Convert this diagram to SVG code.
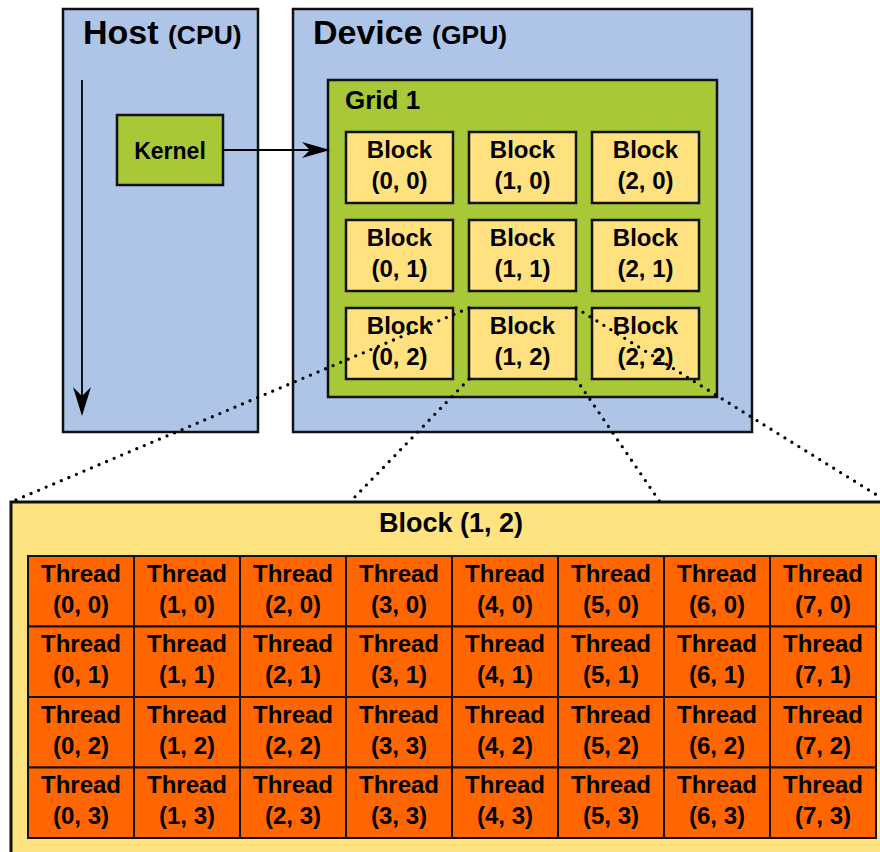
<svg xmlns="http://www.w3.org/2000/svg" width="880" height="852" viewBox="0 0 880 852">
  <style>
    text { font-family: "Liberation Sans", Arial, Helvetica, sans-serif; font-weight: bold; fill: #000; }
    .panel { fill: #aec5e7; stroke: #111; stroke-width: 2.5; }
    .grid { fill: #a8c837; stroke: #111; stroke-width: 2.5; }
    .kernel { fill: #a8c837; stroke: #111; stroke-width: 2.5; }
    .block { fill: #ffe27f; stroke: #111; stroke-width: 2.5; }
    .zoomed { fill: #ffe380; stroke: #111; stroke-width: 3; }
    .thread { fill: #ff6600; stroke: #111; stroke-width: 2; }
    .big { font-size: 34px; }
    .sub { font-size: 26.5px; }
    .grid-title { font-size: 26px; }
    .lbl { font-size: 24px; text-anchor: middle; }
    .tlbl { font-size: 24px; text-anchor: middle; }
    .dots { fill: none; stroke: #000; stroke-width: 3.3; stroke-linecap: round; stroke-dasharray: 0 8.2; }
    .wire { fill: none; stroke: #000; stroke-width: 1.8; }
  </style>

  <!-- Host side -->
  <g id="host">
    <rect class="panel" x="63" y="9" width="195" height="423"/>
    <text x="83" y="44" class="big">Host <tspan class="sub">(CPU)</tspan></text>
  </g>

  <!-- Device side -->
  <g id="device">
    <rect class="panel" x="293" y="9" width="459" height="423"/>
    <text x="313" y="44" class="big">Device <tspan class="sub">(GPU)</tspan></text>
  </g>

  <g id="grid1">
    <rect class="grid" x="328" y="80" width="389" height="317"/>
    <text x="345" y="109" class="grid-title">Grid 1</text>
  </g>

  <g id="kernel">
    <rect class="kernel" x="117" y="115" width="106" height="70"/>
    <text x="170" y="159" class="lbl" style="font-size:23px">Kernel</text>
  </g>

  <!-- Blocks of Grid 1 -->
  <g id="block-0-0"><rect class="block" x="346" y="132" width="107" height="71"/><text class="lbl" x="399.5" y="158">Block</text><text class="lbl" x="399.5" y="189">(0, 0)</text></g>
  <g id="block-1-0"><rect class="block" x="469" y="132" width="107" height="71"/><text class="lbl" x="522.5" y="158">Block</text><text class="lbl" x="522.5" y="189">(1, 0)</text></g>
  <g id="block-2-0"><rect class="block" x="592" y="132" width="107" height="71"/><text class="lbl" x="645.5" y="158">Block</text><text class="lbl" x="645.5" y="189">(2, 0)</text></g>
  <g id="block-0-1"><rect class="block" x="346" y="220" width="107" height="71"/><text class="lbl" x="399.5" y="246">Block</text><text class="lbl" x="399.5" y="277">(0, 1)</text></g>
  <g id="block-1-1"><rect class="block" x="469" y="220" width="107" height="71"/><text class="lbl" x="522.5" y="246">Block</text><text class="lbl" x="522.5" y="277">(1, 1)</text></g>
  <g id="block-2-1"><rect class="block" x="592" y="220" width="107" height="71"/><text class="lbl" x="645.5" y="246">Block</text><text class="lbl" x="645.5" y="277">(2, 1)</text></g>
  <g id="block-0-2"><rect class="block" x="346" y="308" width="107" height="71"/><text class="lbl" x="399.5" y="334">Block</text><text class="lbl" x="399.5" y="365">(0, 2)</text></g>
  <g id="block-1-2"><rect class="block" x="469" y="308" width="107" height="71"/><text class="lbl" x="522.5" y="334">Block</text><text class="lbl" x="522.5" y="365">(1, 2)</text></g>
  <g id="block-2-2"><rect class="block" x="592" y="308" width="107" height="71"/><text class="lbl" x="645.5" y="334">Block</text><text class="lbl" x="645.5" y="365">(2, 2)</text></g>

  <!-- Expanded view of Block (1, 2) -->
  <g id="block-detail">
    <rect class="zoomed" x="11" y="502" width="880" height="360"/>
    <text x="451" y="532" class="lbl" style="font-size:27px">Block (1, 2)</text>
  </g>

  <g id="threads">
    <!-- row 0 -->
    <g id="t-0-0"><rect class="thread" x="28" y="556" width="106" height="70.5"/><text class="tlbl" x="81" y="581.5">Thread</text><text class="tlbl" x="81" y="612.5">(0, 0)</text></g>
    <g id="t-1-0"><rect class="thread" x="134" y="556" width="106" height="70.5"/><text class="tlbl" x="187" y="581.5">Thread</text><text class="tlbl" x="187" y="612.5">(1, 0)</text></g>
    <g id="t-2-0"><rect class="thread" x="240" y="556" width="106" height="70.5"/><text class="tlbl" x="293" y="581.5">Thread</text><text class="tlbl" x="293" y="612.5">(2, 0)</text></g>
    <g id="t-3-0"><rect class="thread" x="346" y="556" width="106" height="70.5"/><text class="tlbl" x="399" y="581.5">Thread</text><text class="tlbl" x="399" y="612.5">(3, 0)</text></g>
    <g id="t-4-0"><rect class="thread" x="452" y="556" width="106" height="70.5"/><text class="tlbl" x="505" y="581.5">Thread</text><text class="tlbl" x="505" y="612.5">(4, 0)</text></g>
    <g id="t-5-0"><rect class="thread" x="558" y="556" width="106" height="70.5"/><text class="tlbl" x="611" y="581.5">Thread</text><text class="tlbl" x="611" y="612.5">(5, 0)</text></g>
    <g id="t-6-0"><rect class="thread" x="664" y="556" width="106" height="70.5"/><text class="tlbl" x="717" y="581.5">Thread</text><text class="tlbl" x="717" y="612.5">(6, 0)</text></g>
    <g id="t-7-0"><rect class="thread" x="770" y="556" width="106" height="70.5"/><text class="tlbl" x="823" y="581.5">Thread</text><text class="tlbl" x="823" y="612.5">(7, 0)</text></g>
    <!-- row 1 -->
    <g id="t-0-1"><rect class="thread" x="28" y="626.5" width="106" height="70.5"/><text class="tlbl" x="81" y="652">Thread</text><text class="tlbl" x="81" y="683">(0, 1)</text></g>
    <g id="t-1-1"><rect class="thread" x="134" y="626.5" width="106" height="70.5"/><text class="tlbl" x="187" y="652">Thread</text><text class="tlbl" x="187" y="683">(1, 1)</text></g>
    <g id="t-2-1"><rect class="thread" x="240" y="626.5" width="106" height="70.5"/><text class="tlbl" x="293" y="652">Thread</text><text class="tlbl" x="293" y="683">(2, 1)</text></g>
    <g id="t-3-1"><rect class="thread" x="346" y="626.5" width="106" height="70.5"/><text class="tlbl" x="399" y="652">Thread</text><text class="tlbl" x="399" y="683">(3, 1)</text></g>
    <g id="t-4-1"><rect class="thread" x="452" y="626.5" width="106" height="70.5"/><text class="tlbl" x="505" y="652">Thread</text><text class="tlbl" x="505" y="683">(4, 1)</text></g>
    <g id="t-5-1"><rect class="thread" x="558" y="626.5" width="106" height="70.5"/><text class="tlbl" x="611" y="652">Thread</text><text class="tlbl" x="611" y="683">(5, 1)</text></g>
    <g id="t-6-1"><rect class="thread" x="664" y="626.5" width="106" height="70.5"/><text class="tlbl" x="717" y="652">Thread</text><text class="tlbl" x="717" y="683">(6, 1)</text></g>
    <g id="t-7-1"><rect class="thread" x="770" y="626.5" width="106" height="70.5"/><text class="tlbl" x="823" y="652">Thread</text><text class="tlbl" x="823" y="683">(7, 1)</text></g>
    <!-- row 2 -->
    <g id="t-0-2"><rect class="thread" x="28" y="697" width="106" height="70.5"/><text class="tlbl" x="81" y="722.5">Thread</text><text class="tlbl" x="81" y="753.5">(0, 2)</text></g>
    <g id="t-1-2"><rect class="thread" x="134" y="697" width="106" height="70.5"/><text class="tlbl" x="187" y="722.5">Thread</text><text class="tlbl" x="187" y="753.5">(1, 2)</text></g>
    <g id="t-2-2"><rect class="thread" x="240" y="697" width="106" height="70.5"/><text class="tlbl" x="293" y="722.5">Thread</text><text class="tlbl" x="293" y="753.5">(2, 2)</text></g>
    <g id="t-3-2"><rect class="thread" x="346" y="697" width="106" height="70.5"/><text class="tlbl" x="399" y="722.5">Thread</text><text class="tlbl" x="399" y="753.5">(3, 3)</text></g>
    <g id="t-4-2"><rect class="thread" x="452" y="697" width="106" height="70.5"/><text class="tlbl" x="505" y="722.5">Thread</text><text class="tlbl" x="505" y="753.5">(4, 2)</text></g>
    <g id="t-5-2"><rect class="thread" x="558" y="697" width="106" height="70.5"/><text class="tlbl" x="611" y="722.5">Thread</text><text class="tlbl" x="611" y="753.5">(5, 2)</text></g>
    <g id="t-6-2"><rect class="thread" x="664" y="697" width="106" height="70.5"/><text class="tlbl" x="717" y="722.5">Thread</text><text class="tlbl" x="717" y="753.5">(6, 2)</text></g>
    <g id="t-7-2"><rect class="thread" x="770" y="697" width="106" height="70.5"/><text class="tlbl" x="823" y="722.5">Thread</text><text class="tlbl" x="823" y="753.5">(7, 2)</text></g>
    <!-- row 3 -->
    <g id="t-0-3"><rect class="thread" x="28" y="767.5" width="106" height="70.5"/><text class="tlbl" x="81" y="793">Thread</text><text class="tlbl" x="81" y="824">(0, 3)</text></g>
    <g id="t-1-3"><rect class="thread" x="134" y="767.5" width="106" height="70.5"/><text class="tlbl" x="187" y="793">Thread</text><text class="tlbl" x="187" y="824">(1, 3)</text></g>
    <g id="t-2-3"><rect class="thread" x="240" y="767.5" width="106" height="70.5"/><text class="tlbl" x="293" y="793">Thread</text><text class="tlbl" x="293" y="824">(2, 3)</text></g>
    <g id="t-3-3"><rect class="thread" x="346" y="767.5" width="106" height="70.5"/><text class="tlbl" x="399" y="793">Thread</text><text class="tlbl" x="399" y="824">(3, 3)</text></g>
    <g id="t-4-3"><rect class="thread" x="452" y="767.5" width="106" height="70.5"/><text class="tlbl" x="505" y="793">Thread</text><text class="tlbl" x="505" y="824">(4, 3)</text></g>
    <g id="t-5-3"><rect class="thread" x="558" y="767.5" width="106" height="70.5"/><text class="tlbl" x="611" y="793">Thread</text><text class="tlbl" x="611" y="824">(5, 3)</text></g>
    <g id="t-6-3"><rect class="thread" x="664" y="767.5" width="106" height="70.5"/><text class="tlbl" x="717" y="793">Thread</text><text class="tlbl" x="717" y="824">(6, 3)</text></g>
    <g id="t-7-3"><rect class="thread" x="770" y="767.5" width="106" height="70.5"/><text class="tlbl" x="823" y="793">Thread</text><text class="tlbl" x="823" y="824">(7, 3)</text></g>
  </g>

  <!-- Connectors: host timeline, kernel launch, and zoom guides -->
  <g id="connectors">
    <line class="wire" x1="82" y1="80" x2="82" y2="400"/>
    <path d="M82,416 L73,387 L82,396 L91,387 Z" fill="#000"/>
    <line class="wire" x1="223" y1="150" x2="312" y2="150"/>
    <path d="M330,150 L302,142 L310,150 L302,158 Z" fill="#000"/>
    <line class="dots" x1="469" y1="308" x2="11" y2="502"/>
    <line class="dots" x1="469" y1="379" x2="350" y2="502"/>
    <line class="dots" x1="576" y1="308" x2="888" y2="502"/>
    <line class="dots" x1="576" y1="379" x2="660" y2="502"/>
  </g>
</svg>
